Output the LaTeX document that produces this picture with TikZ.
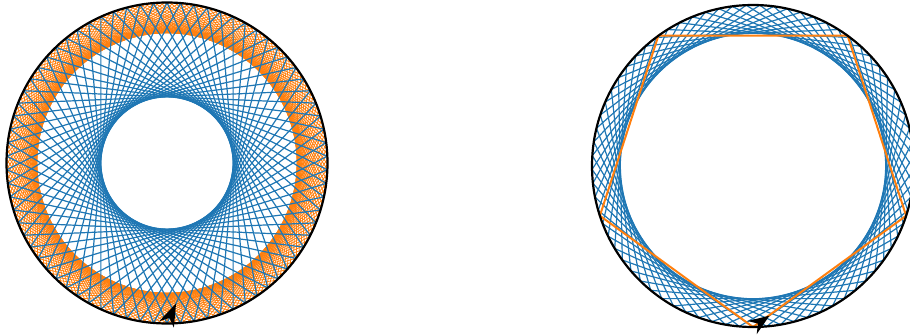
\documentclass[tikz,border=0pt]{standalone}
\definecolor{mblue}{HTML}{1F77B4}
\definecolor{morange}{HTML}{FF7F0E}
\tikzset{
  blueline/.style={draw=mblue, line width=1.2pt},
  orangeline/.style={draw=morange, line width=0.8pt},
  pentline/.style={draw=morange, line width=2pt, line join=miter},
  rim/.style={draw=black, line width=2.2pt},
  headfill/.style={fill=black}
}
\begin{document}
\begin{tikzpicture}[x=1pt,y=1pt]
\useasboundingbox (0,0) rectangle (910,335);
\coordinate (Lc) at (167,172);
\coordinate (Rc) at (753,169);
% ---------- left disc ----------
\begin{scope}[shift={(Lc)}]
  \foreach \j in {0,...,200} {
    \pgfmathsetmacro{\a}{-90+\j/201*360}
    \pgfmathsetmacro{\b}{-90+(\j+40)/201*360}
    \draw[orangeline] (\a:160.5) -- (\b:160.5);
  }
  \foreach \j in {0,...,73} {
    \pgfmathsetmacro{\a}{-90+\j/74*360}
    \pgfmathsetmacro{\b}{-90+(\j+27)/74*360}
    \draw[blueline] (\a:160.5) -- (\b:160.5);
  }
  \draw[rim] (0,0) circle (160.5);
  \fill[headfill, shift={(0,-160.5)}, rotate=65.7] (22,0) -- (-1,8) -- (6,0) -- (-1,-8) -- cycle;
\end{scope}
% ---------- right disc ----------
\begin{scope}[shift={(Rc)}]
  \foreach \j in {0,...,72} {
    \pgfmathsetmacro{\a}{-90+\j/73*360}
    \pgfmathsetmacro{\b}{-90+(\j+14)/73*360}
    \draw[blueline] (\a:161) -- (\b:161);
  }
  \draw[pentline] (-90:161) -- (-18:161) -- (54:161) -- (126:161) -- (198:161) -- cycle;
  \draw[rim] (0,0) circle (161);
  \fill[headfill, shift={(0,-161)}, rotate=34.5] (20,0) -- (-1,8) -- (6,0) -- (-1,-8) -- cycle;
\end{scope}
\end{tikzpicture}
\end{document}
